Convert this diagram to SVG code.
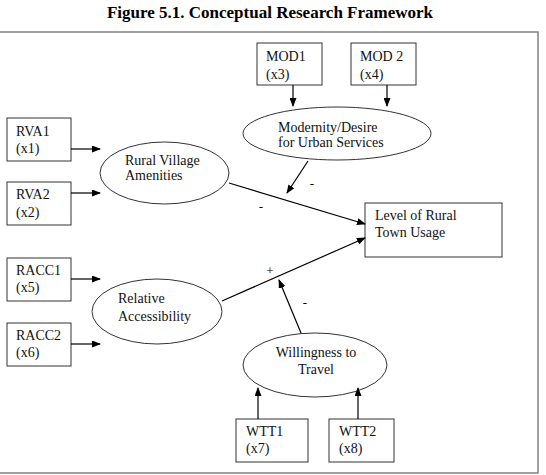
<svg xmlns="http://www.w3.org/2000/svg" width="546" height="475" viewBox="0 0 546 475">
<defs>
<marker id="ah" markerWidth="9" markerHeight="7" refX="8" refY="3.5" orient="auto" markerUnits="userSpaceOnUse">
<path d="M0,0 L9,3.5 L0,7 z" fill="#000"/>
</marker>
<style>
text{font-family:"Liberation Serif","Times New Roman",serif;font-size:14px;fill:#111}
.title{font-size:17px;font-weight:bold;fill:#000}
.box{fill:#fff;stroke:#333;stroke-width:1}
.ell{fill:#fff;stroke:#333;stroke-width:1}
.frame{fill:none;stroke:#808080;stroke-width:1.5}
.conn line{stroke:#000;stroke-width:1.2;marker-end:url(#ah)}
.sign{font-size:13px;fill:#000}
</style>
</defs>
<rect width="546" height="475" fill="#fff"/>
<text class="title" x="270" y="18" text-anchor="middle">Figure 5.1. Conceptual Research Framework</text>
<rect class="frame" x="-1" y="32" width="539" height="441"/>

<g id="MOD1"><rect class="box" x="257" y="43" width="65" height="42"/><text x="266" y="61">MOD1</text><text x="266" y="79">(x3)</text></g>
<g id="MOD2"><rect class="box" x="351" y="43" width="65" height="42"/><text x="360" y="61">MOD 2</text><text x="360" y="79">(x4)</text></g>
<g id="Modernity"><ellipse class="ell" cx="337" cy="133.5" rx="94" ry="26.5"/><text x="278" y="132">Modernity/Desire</text><text x="278" y="147">for Urban Services</text></g>
<g id="RVA1"><rect class="box" x="7" y="118" width="64" height="43"/><text x="16" y="136">RVA1</text><text x="16" y="153">(x1)</text></g>
<g id="RVA2"><rect class="box" x="7" y="182" width="64" height="43"/><text x="16" y="199">RVA2</text><text x="16" y="217">(x2)</text></g>
<g id="RuralVillage"><ellipse class="ell" cx="164.5" cy="173" rx="64.5" ry="31"/><text x="125" y="165">Rural Village</text><text x="125" y="180">Amenities</text></g>
<g id="Level"><rect class="box" x="365" y="203" width="137" height="54"/><text x="375" y="220">Level of Rural</text><text x="375" y="237">Town Usage</text></g>
<g id="RACC1"><rect class="box" x="7" y="258" width="64" height="43"/><text x="16" y="275">RACC1</text><text x="16" y="292">(x5)</text></g>
<g id="RACC2"><rect class="box" x="7" y="323" width="64" height="43"/><text x="16" y="340">RACC2</text><text x="16" y="357">(x6)</text></g>
<g id="Relative"><ellipse class="ell" cx="157" cy="311.5" rx="65" ry="32.5"/><text x="118" y="303">Relative</text><text x="118" y="321">Accessibility</text></g>
<g id="Willingness"><ellipse class="ell" cx="315" cy="365" rx="72" ry="32"/><text x="316" y="357" text-anchor="middle">Willingness to</text><text x="316" y="374" text-anchor="middle">Travel</text></g>
<g id="WTT1"><rect class="box" x="236" y="419" width="72" height="43"/><text x="246" y="436">WTT1</text><text x="246" y="453">(x7)</text></g>
<g id="WTT2"><rect class="box" x="329" y="419" width="65" height="43"/><text x="339" y="436">WTT2</text><text x="339" y="453">(x8)</text></g>

<g id="connectors" class="conn">
<line x1="293" y1="85" x2="293" y2="106"/>
<line x1="387" y1="85" x2="387" y2="106"/>
<line x1="308" y1="161" x2="287" y2="193"/>
<line x1="71" y1="149" x2="100" y2="149"/>
<line x1="71" y1="193" x2="100" y2="193"/>
<line x1="229" y1="183" x2="365" y2="224"/>
<line x1="71" y1="279" x2="100" y2="279"/>
<line x1="71" y1="344" x2="100" y2="344"/>
<line x1="222" y1="301" x2="365" y2="238"/>
<line x1="301" y1="333" x2="279" y2="280"/>
<line x1="258" y1="419" x2="258" y2="388"/>
<line x1="358" y1="419" x2="358" y2="388"/>
</g>
<g id="labels">
<text class="sign" x="312" y="188" text-anchor="middle">-</text>
<text class="sign" x="261" y="211" text-anchor="middle">-</text>
<text class="sign" x="270" y="275" text-anchor="middle">+</text>
<text class="sign" x="305" y="307" text-anchor="middle">-</text>
</g>
</svg>
